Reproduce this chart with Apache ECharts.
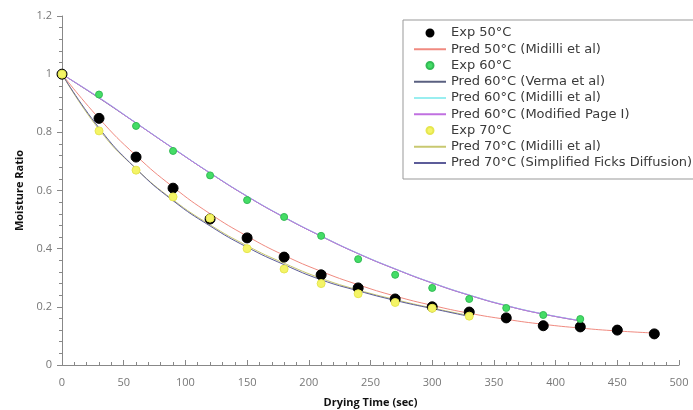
<!DOCTYPE html>
<html>
<head>
<meta charset="utf-8">
<script src="https://cdn.jsdelivr.net/npm/echarts@6/dist/echarts.min.js"></script>
<style>
  html, body { margin: 0; padding: 0; background: #fff; }
  #chart { width: 693px; height: 410px; }
</style>
</head>
<body>
<div id="chart"></div>
<script>
// drying time (sec)
var time50 = [0, 30, 60, 90, 120, 150, 180, 210, 240, 270, 300, 330, 360, 390, 420, 450, 480];
var time60 = [0, 30, 60, 90, 120, 150, 180, 210, 240, 270, 300, 330, 360, 390, 420];
var time70 = [0, 30, 60, 90, 120, 150, 180, 210, 240, 270, 300, 330];

// moisture ratio, experimental
var exp50 = [1.0, 0.848, 0.715, 0.608, 0.502, 0.437, 0.371, 0.31, 0.265, 0.227, 0.2, 0.182, 0.162, 0.135, 0.131, 0.12, 0.107];
var exp60 = [1.0, 0.93, 0.822, 0.736, 0.652, 0.567, 0.509, 0.444, 0.364, 0.31, 0.265, 0.227, 0.196, 0.172, 0.158];
var exp70 = [1.0, 0.805, 0.67, 0.578, 0.505, 0.40, 0.33, 0.28, 0.245, 0.215, 0.195, 0.168];

// moisture ratio, predicted
var pred50Midilli = [1.0, 0.848, 0.72, 0.612, 0.52, 0.443, 0.377, 0.322, 0.276, 0.237, 0.205, 0.178, 0.157, 0.14, 0.127, 0.117, 0.11];
var pred60Verma = [1.0, 0.918, 0.832, 0.745, 0.66, 0.58, 0.508, 0.443, 0.383, 0.33, 0.282, 0.24, 0.204, 0.175, 0.152];
var pred60Midilli = [1.0, 0.92, 0.833, 0.746, 0.661, 0.581, 0.509, 0.444, 0.384, 0.331, 0.283, 0.241, 0.205, 0.176, 0.153];
var pred60Page = [1.0, 0.919, 0.832, 0.745, 0.66, 0.58, 0.508, 0.443, 0.383, 0.33, 0.282, 0.24, 0.204, 0.175, 0.152];
var pred70Midilli = [1.0, 0.81, 0.675, 0.568, 0.482, 0.41, 0.35, 0.298, 0.258, 0.225, 0.196, 0.17];
var pred70Ficks = [1.0, 0.815, 0.675, 0.565, 0.478, 0.405, 0.345, 0.293, 0.255, 0.222, 0.194, 0.167];

var seriesNames = [
  'Exp 50°C',
  'Pred 50°C (Midilli et al)',
  'Exp 60°C',
  'Pred 60°C (Verma et al)',
  'Pred 60°C (Midilli et al)',
  'Pred 60°C (Modified Page I)',
  'Exp 70°C',
  'Pred 70°C (Midilli et al)',
  'Pred 70°C (Simplified Ficks Diffusion)'
];

function pairs(xs, ys) {
  var out = [];
  for (var i = 0; i < xs.length; i++) out.push([xs[i], ys[i]]);
  return out;
}

function lineSeries(name, xs, ys, color) {
  return {
    name: name, type: 'line', data: pairs(xs, ys),
    smooth: true, symbol: 'none', z: 2,
    lineStyle: { color: color, width: 1 },
    itemStyle: { color: color }
  };
}

function dotSeries(name, xs, ys, color, size, border) {
  return {
    name: name, type: 'scatter', data: pairs(xs, ys),
    symbol: 'circle', symbolSize: size, z: 5,
    itemStyle: { color: color, borderColor: border, borderWidth: 1, opacity: 1 }
  };
}

// legend entries: dots keep their circle, lines show only the stroke
function legendItems() {
  return seriesNames.map(function (n) {
    if (n.indexOf('Exp') === 0) return { name: n, icon: 'circle' };
    return { name: n, itemStyle: { opacity: 0 } };
  });
}

var font = 'Open Sans';
var chart = echarts.init(document.getElementById('chart'));
chart.setOption({
  animation: false,
  backgroundColor: '#fff',
  textStyle: { fontFamily: font },
  grid: { left: 62, right: 14, top: 16, bottom: 45, outerBoundsMode: 'none' },
  legend: {
    orient: 'vertical',
    left: 403, top: 20,
    padding: [6, 10, 9, 10],
    itemGap: 2.25,
    itemWidth: 32, itemHeight: 7,
    backgroundColor: '#fff',
    borderColor: '#999', borderWidth: 1,
    textStyle: { fontFamily: 'DejaVu Sans', fontSize: 13, color: '#3a3a3a', lineHeight: 14 },
    data: legendItems()
  },
  xAxis: {
    type: 'value', min: 0, max: 500, interval: 50,
    name: 'Drying Time (sec)', nameLocation: 'middle', nameGap: 32,
    nameTextStyle: { fontFamily: font, fontSize: 11, fontWeight: 'bold', color: '#111' },
    axisLine: { show: true, lineStyle: { color: '#888' } },
    axisTick: { show: true, inside: true, length: 5, lineStyle: { color: '#888' } },
    minorTick: { show: true, splitNumber: 5, length: 3, lineStyle: { color: '#888' } },
    axisLabel: { fontFamily: font, fontSize: 11, color: '#777', margin: 12 },
    splitLine: { show: false }
  },
  yAxis: {
    type: 'value', min: 0, max: 1.2, interval: 0.2,
    name: 'Moisture Ratio', nameLocation: 'middle', nameGap: 36,
    nameTextStyle: { fontFamily: font, fontSize: 11, fontWeight: 'bold', color: '#111' },
    axisLine: { show: true, lineStyle: { color: '#888' } },
    axisTick: { show: true, length: 5, lineStyle: { color: '#888' } },
    minorTick: { show: true, splitNumber: 5, length: 3, lineStyle: { color: '#888' } },
    axisLabel: { fontFamily: font, fontSize: 11, color: '#777', margin: 10 },
    splitLine: { show: false }
  },
  series: [
    dotSeries(seriesNames[0], time50, exp50, '#000', 10, '#000'),
    lineSeries(seriesNames[1], time50, pred50Midilli, '#f08a80'),
    dotSeries(seriesNames[2], time60, exp60, '#44dd66', 7, '#33bb55'),
    lineSeries(seriesNames[3], time60, pred60Verma, '#5a6080'),
    lineSeries(seriesNames[4], time60, pred60Midilli, '#99eef0'),
    lineSeries(seriesNames[5], time60, pred60Page, '#c070e0'),
    dotSeries(seriesNames[6], time70, exp70, '#f4f466', 8, '#e6e650'),
    lineSeries(seriesNames[7], time70, pred70Midilli, '#c8c870'),
    lineSeries(seriesNames[8], time70, pred70Ficks, '#5c5c99')
  ]
});
</script>
</body>
</html>
